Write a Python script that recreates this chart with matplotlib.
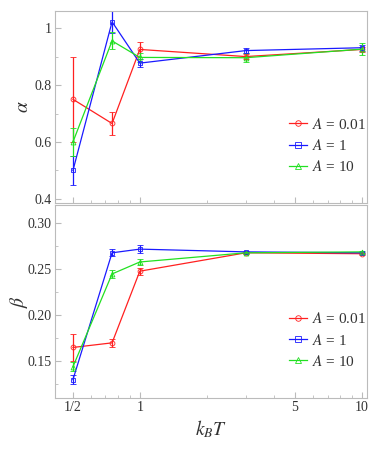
import numpy as np
import matplotlib
matplotlib.use("Agg")
import matplotlib.pyplot as plt
from matplotlib.lines import Line2D
from matplotlib.ticker import FixedLocator, NullFormatter, FixedFormatter

plt.rcParams['mathtext.fontset'] = 'stix'
plt.rcParams['font.family'] = ['Liberation Serif', 'DejaVu Serif']

# temperatures k_B T
kT = [0.5, 0.75, 1.0, 3.0, 10.0]

# alpha exponent with errors
alpha_a001 = [0.75, 0.665, 0.925, 0.90, 0.925]
alpha_a001_err = [0.15, 0.04, 0.025, 0.01, 0.01]
alpha_a1 = [0.50, 1.022, 0.877, 0.921, 0.931]
alpha_a1_err = [0.05, 0.04, 0.015, 0.01, 0.01]
alpha_a10 = [0.60, 0.955, 0.897, 0.896, 0.926]
alpha_a10_err = [0.05, 0.03, 0.015, 0.015, 0.02]

# beta exponent with errors
beta_a001 = [0.165, 0.170, 0.248, 0.268, 0.267]
beta_a001_err = [0.015, 0.004, 0.004, 0.001, 0.001]
beta_a1 = [0.130, 0.268, 0.272, 0.269, 0.268]
beta_a1_err = [0.005, 0.004, 0.004, 0.001, 0.001]
beta_a10 = [0.144, 0.245, 0.258, 0.268, 0.269]
beta_a10_err = [0.005, 0.004, 0.003, 0.001, 0.001]

labels = [r'$A$ = 0.01', r'$A$ = 1', r'$A$ = 10']
colors = ['#ff2020', '#1a1aff', '#22e022']
markers = ['o', 's', '^']

fig = plt.figure(figsize=(3.74, 4.49), dpi=100)
ax1 = fig.add_axes([0.147, 0.548, 0.834, 0.4275])
ax2 = fig.add_axes([0.147, 0.1136, 0.834, 0.4298])

spine_col = '#bbbbbb'
text_col = '#333333'


def draw(ax, series, errs):
    handles = []
    for y, e, c, m, lab in zip(series, errs, colors, markers, labels):
        ax.errorbar(kT, y, yerr=e, color=c, lw=0.9, elinewidth=0.9,
                    capsize=2, capthick=0.9, marker=m, ms=3.5,
                    mfc='none', mec=c, mew=0.6)
        handles.append(Line2D([], [], color=c, lw=0.9, marker=m, ms=4,
                              mfc='none', mec=c, mew=0.6, label=lab))
    ax.set_xscale('log')
    ax.set_xlim(0.415, 10.53)
    for s in ax.spines.values():
        s.set_color(spine_col)
        s.set_linewidth(0.8)
    ax.tick_params(which='both', direction='in', color=spine_col,
                   labelcolor=text_col, labelsize=10, top=False, right=False, pad=2.5)
    ax.tick_params(which='major', length=4)
    ax.tick_params(which='minor', length=2)
    ax.xaxis.set_major_locator(FixedLocator([0.5, 1, 5, 10]))
    ax.xaxis.set_minor_locator(FixedLocator([0.6, 0.7, 0.8, 0.9, 2, 3, 4, 6, 7, 8, 9]))
    ax.xaxis.set_minor_formatter(NullFormatter())
    leg = ax.legend(handles=handles, loc='center left', bbox_to_anchor=(0.75, 0.30),
                    frameon=False, fontsize=11, handlelength=1.2, handletextpad=0.3,
                    labelspacing=0.4, borderaxespad=0, borderpad=0)
    for t in leg.get_texts():
        t.set_color(text_col)


draw(ax1, [alpha_a001, alpha_a1, alpha_a10], [alpha_a001_err, alpha_a1_err, alpha_a10_err])
draw(ax2, [beta_a001, beta_a1, beta_a10], [beta_a001_err, beta_a1_err, beta_a10_err])

ax1.set_ylim(0.386, 1.06)
ax1.yaxis.set_major_locator(FixedLocator([0.4, 0.6, 0.8, 1.0]))
ax1.yaxis.set_major_formatter(FixedFormatter(['0.4', '0.6', '0.8', '1']))
ax1.yaxis.set_minor_locator(FixedLocator([0.5, 0.7, 0.9]))
ax1.xaxis.set_major_formatter(NullFormatter())
ax1.set_ylabel(r'$\alpha$', fontsize=14, color=text_col)
ax1.yaxis.set_label_coords(-0.075, 0.5)

ax2.set_ylim(0.11, 0.32)
ax2.yaxis.set_major_locator(FixedLocator([0.15, 0.20, 0.25, 0.30]))
ax2.yaxis.set_major_formatter(FixedFormatter(['0.15', '0.20', '0.25', '0.30']))
ax2.yaxis.set_minor_locator(FixedLocator([0.125, 0.175, 0.225, 0.275]))
ax2.xaxis.set_major_formatter(FixedFormatter(['1/2', '1', '5', '10']))
ax2.set_ylabel(r'$\beta$', fontsize=14, color=text_col)
ax2.yaxis.set_label_coords(-0.08, 0.5)
ax2.set_xlabel(r'$k_B T$', fontsize=14, color=text_col, labelpad=3)

fig.savefig('out.png', dpi=100)
